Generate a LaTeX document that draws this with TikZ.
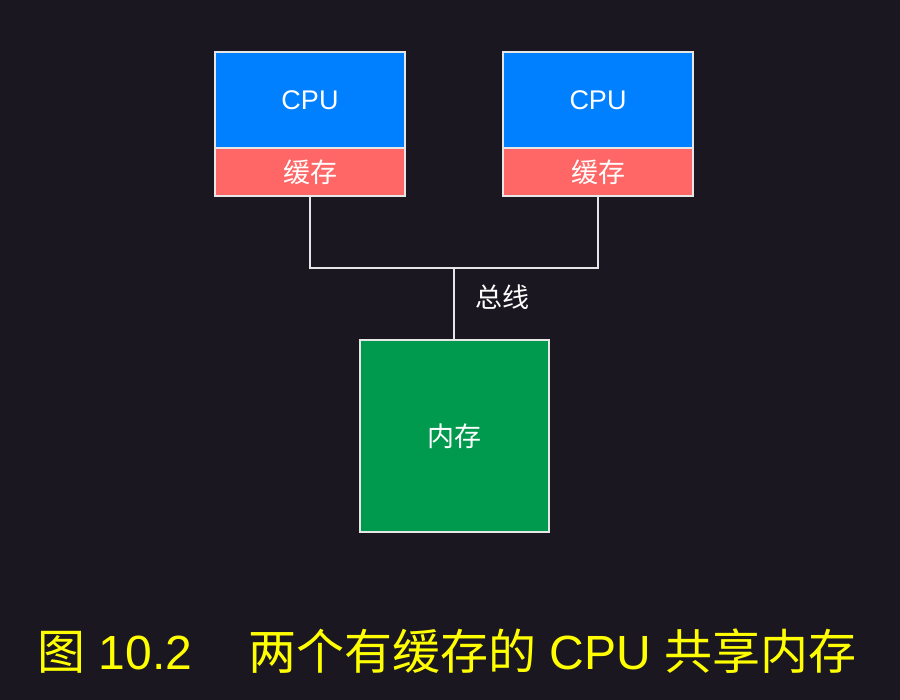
\documentclass[tikz,border=0pt]{standalone}
\usepackage{fontspec}
\setmainfont{Liberation Sans}
\newfontfamily\cjk{Noto Sans CJK SC}
\definecolor{bgc}{HTML}{1A1720}
\definecolor{cpuc}{HTML}{0080FF}
\definecolor{cachec}{HTML}{FF6666}
\definecolor{memc}{HTML}{009A4E}
\definecolor{edgec}{HTML}{E6E6E6}
\definecolor{capc}{HTML}{FFFF00}
\begin{document}
\begin{tikzpicture}[x=1pt,y=-1pt,
  box/.style={draw=edgec,line width=2pt,inner sep=0pt,text=white,font=\fontsize{27}{30}\selectfont},
  cpubox/.style={box,fill=cpuc,minimum width=190pt,minimum height=96pt},
  cachebox/.style={box,fill=cachec,minimum width=190pt,minimum height=48pt},
  membox/.style={box,fill=memc,minimum width=189pt,minimum height=192pt},
  wire/.style={draw=edgec,line width=2.2pt}]
\fill[bgc] (0,0) rectangle (900,700);
\useasboundingbox (0,0) rectangle (900,700);
\node[cpubox] (cpu1) at (310,100) {CPU};
\node[cachebox] (cache1) at (310,172) {\cjk 缓存};
\node[cpubox] (cpu2) at (598,100) {CPU};
\node[cachebox] (cache2) at (598,172) {\cjk 缓存};
\node[membox] (mem) at (454,436) {\cjk 内存};
\coordinate (bus) at (454,268);
\draw[wire] (cache1.south) |- (bus) -| (cache2.south);
\draw[wire] (mem.north) -- (bus);
\node[text=white,font=\fontsize{27}{30}\selectfont\cjk] (buslabel) at (502,297) {总线};
\node[text=capc,font=\fontsize{48}{52}\selectfont,inner sep=0pt] (cap) at (447,651)
  {{\cjk 图} 10.2\hspace{56pt}{\cjk 两个有缓存的} CPU {\cjk 共享内存}};
\end{tikzpicture}
\end{document}
